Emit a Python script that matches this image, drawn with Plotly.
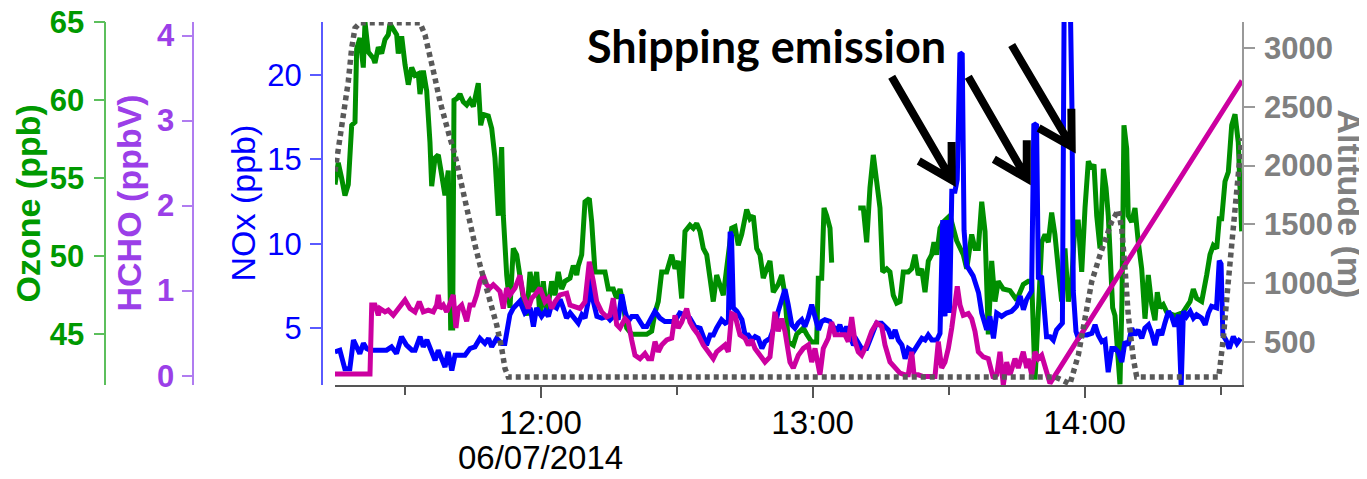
import math
import pandas as pd
import plotly.graph_objects as go

BASE = pd.Timestamp("2014-06-07 11:00:00")

# ---- data (time in minutes after 11:00) ----
OZ_T = [14.63, 15.35, 16.10, 16.83, 17.56, 18.31, 19.04, 19.41, 20.14, 20.87, 21.25, 21.97, 23.08, 23.45, 24.18,
        24.93, 25.66, 26.38, 26.76, 27.49, 28.24, 28.59, 29.34, 30.07, 30.80, 31.55, 32.28, 33.00, 33.38, 34.11,
        34.86, 35.58, 35.96, 36.69, 37.42, 38.17, 38.89, 39.62, 40.15, 40.59, 40.88, 41.47, 42.20, 42.93, 43.68,
        44.41, 45.14, 46.24, 46.77, 47.34, 48.45, 49.20, 49.92, 50.65, 51.40, 51.76, 52.51, 53.23, 53.96, 54.71,
        55.44, 56.17, 56.92, 57.65, 58.37, 59.12, 59.85, 60.58, 61.33, 62.43, 63.16, 63.89, 64.64, 65.37, 66.47,
        67.20, 67.95, 68.30, 69.05, 69.78, 70.73, 71.26, 71.99, 73.09, 74.19, 74.92, 76.02, 76.77, 77.50, 78.23,
        78.98, 80.08, 81.91, 83.39, 84.49, 85.22, 85.95, 86.70, 87.80, 88.91, 89.63, 90.36, 91.11, 91.84, 92.94,
        93.67, 94.42, 95.15, 95.88, 96.63, 97.36, 98.08, 98.83, 99.56, 100.29, 102.14, 102.87, 103.60, 104.35,
        105.45, 106.18, 106.91, 107.66, 108.39, 109.11, 109.86, 110.59, 111.32, 112.42, 113.17, 113.90, 114.63,
        115.73, 116.48, 117.94, 118.69, 119.79, 120.89, 121.25, 122.00, 122.51, 123.10, 123.83, 124.20, 127.0,
        130.07, 131.18, 131.92, 132.65, 133.38, 134.13, 134.86, 135.45, 136.34, 137.06, 137.79, 138.54, 139.27,
        140.00, 141.10, 141.85, 142.58, 143.31, 144.06, 144.79, 145.52, 146.26, 146.77, 147.37, 148.10, 148.82,
        150.29, 151.77, 153.24, 153.99, 155.09, 155.82, 156.55, 157.30, 158.03, 158.75, 159.50, 160.23, 160.95,
        162.06, 163.54, 165.02, 166.47, 167.57, 168.33, 169.06, 169.78, 170.53, 171.26, 171.99, 172.73, 173.45,
        174.20, 174.94, 175.67, 176.40, 177.15, 177.88, 178.61, 179.36, 180.09, 180.82, 181.56, 182.07, 182.67,
        183.40, 184.13, 184.72, 185.22, 185.60, 186.19, 186.70, 187.21, 187.80, 188.24, 188.68, 189.28, 189.63,
        190.38, 191.11, 191.84, 192.59, 193.32, 194.05, 194.80, 195.52, 196.03, 196.62, 197.35, 198.17, 199.94,
        201.70, 203.25, 203.98, 204.72, 205.83, 206.93, 207.66, 208.39, 209.14, 209.71, 210.24, 210.97, 211.70,
        212.45, 213.18, 213.90, 214.65]
OZ_V = [54.6, 56.0, 55.0, 53.9, 54.6, 58.4, 58.6, 63.3, 64.0, 62.1, 65.0, 63.1, 62.7, 62.4, 63.4,
        63.0, 63.9, 64.2, 64.9, 64.5, 64.2, 63.0, 64.1, 62.3, 61.0, 62.1, 61.6, 61.7, 60.4, 61.9,
        60.6, 57.3, 54.5, 56.3, 56.5, 55.2, 53.9, 55.5, 45.4, 45.4, 60.0, 60.1, 60.4, 59.9, 59.7,
        60.0, 59.6, 61.1, 58.4, 59.1, 59.0, 58.2, 56.3, 52.6, 57.0, 52.6, 48.8, 46.7, 50.5, 50.1,
        48.6, 47.3, 46.2, 49.0, 47.7, 49.0, 46.2, 48.4, 46.2, 48.4, 47.5, 49.0, 47.9, 48.4, 48.6,
        49.4, 48.8, 49.4, 50.1, 53.5, 53.7, 52.2, 49.0, 49.0, 49.0, 47.9, 47.9, 47.3, 47.9, 46.9,
        45.4, 45.0, 45.0, 45.0, 45.2, 46.4, 47.1, 49.0, 49.0, 50.1, 49.2, 49.7, 47.3, 51.6, 52.0,
        51.8, 52.1, 51.6, 50.5, 50.1, 48.6, 47.1, 48.8, 48.2, 47.5, 51.8, 51.9, 50.7, 51.4,
        53.0, 52.4, 52.6, 50.5, 50.1, 48.6, 49.2, 49.7, 47.7, 48.2, 48.8, 47.5, 44.5,
        44.3, 45.0, 45.4, 45.0, 44.5, 44.5, 48.6, 48.6, 53.1, 52.6, 51.8, 49.6, None,
        53.1, 53.1, 50.9, 54.4, 56.5, 54.4, 53.1, 49.0, 49.2, 49.0, 47.5, 47.0, 47.1,
        49.0, 49.0, 49.2, 50.1, 48.8, 49.2, 47.7, 49.7, 50.1, 50.9, 50.1, 51.8, 52.2,
        52.6, 51.0, 50.1, 49.2, 51.4, 50.5, 50.5, 53.5, 51.6, 45.0, 49.7, 47.1, 48.4,
        47.9, 47.8, 47.2, 48.2, 48.4, 48.4, 42.1, 47.2, 50.9, 51.4, 50.9, 52.8, 51.4,
        49.2, 47.1, 50.5, 47.1, 48.4, 52.2, 52.2, 49.0, 53.1, 56.1, 55.6, 55.9, 52.6,
        50.5, 55.6, 54.4, 52.6, 50.5, 46.7, 46.2, 43.7, 41.8, 47.2, 58.4, 56.9, 52.6,
        52.2, 53.1, 50.9, 49.2, 46.0, 48.8, 46.9, 45.9, 47.7, 46.7, 46.9, 46.4, 46.2,
        46.4, 47.1, 47.9, 47.3, 47.1, 48.8, 50.1, 50.7, 50.5, 52.4, 52.4, 54.8, 55.4,
        58.4, 59.1, 57.3, 51.6]

NOX_T = [14.6, 15.7, 16.8, 17.9, 18.7, 19.4, 20.1, 20.9, 21.6, 22.4, 24.6, 26.0, 27.1, 28.2, 29.3, 30.4,
         31.6, 32.3, 33.4, 34.1, 34.9, 35.6, 36.7, 37.4, 38.2, 38.9, 39.6, 40.4, 41.1, 42.2, 43.3, 44.4,
         45.5, 46.6, 47.7, 48.5, 49.2, 50.3, 51.4, 52.1, 53.2, 54.0, 54.7, 55.4, 56.5, 57.7, 58.4, 59.1,
         60.2, 61.0, 61.7, 62.4, 63.5, 64.3, 65.0, 65.7, 66.5, 67.6, 68.3, 69.1, 69.8, 70.5, 70.9, 71.6,
         72.4, 73.5, 74.6, 75.3, 76.4, 77.1, 77.9, 78.6, 79.3, 80.1, 81.2, 81.9, 82.6, 83.4, 84.1, 85.2,
         86.3, 87.4, 88.5, 89.6, 90.7, 91.8, 92.9, 94.0, 95.2, 95.9, 96.6, 97.4, 98.1, 98.8, 99.9, 100.7,
         101.4, 101.8, 102.1, 102.5, 103.3, 104.4, 105.1, 105.8, 106.6, 107.3, 108.0, 108.8, 109.5, 110.6,
         111.7, 112.4, 113.2, 113.9, 114.6, 115.4, 116.1, 116.8, 117.6, 118.3, 119.0, 119.8, 120.5, 121.3,
         122.0, 122.7, 123.8, 124.6, 125.3, 126.0, 126.8, 127.5, 128.2, 129.0, 129.7, 130.8, 131.9, 133.0,
         134.1, 135.2, 136.0, 136.7, 137.4, 138.2, 138.9, 139.7, 140.4, 141.1, 142.2, 143.3, 144.1, 144.8,
         145.5, 146.3, 147.4, 148.1, 148.7, 149.2, 149.7, 150.2, 150.7, 151.4, 151.9, 152.5, 153.0, 153.4,
         154.0, 155.4, 156.6, 157.3, 158.4, 159.1, 159.9, 160.6, 161.7, 162.8, 163.9, 165.0, 165.8, 166.5,
         167.2, 168.3, 168.8, 169.4, 169.8, 170.5, 171.0, 171.6, 172.4, 173.1, 173.8, 174.6, 175.1, 175.5,
         176.8, 177.2, 177.5, 178.1, 178.6, 179.4, 180.5, 181.6, 182.3, 183.0, 183.8, 184.5, 185.2, 186.0,
         186.7, 187.4, 188.2, 188.9, 189.6, 190.4, 191.1, 191.8, 192.6, 193.3, 194.1, 194.8, 195.5, 196.3,
         197.0, 197.7, 198.5, 199.2, 199.9, 200.7, 201.3, 201.8, 202.5, 203.3, 204.0, 204.7, 205.8, 206.6,
         207.3, 208.0, 209.1, 209.7, 210.1, 210.5, 211.2, 211.9, 212.8, 213.6, 214.4]
NOX_V = [3.6, 3.7, 2.6, 2.6, 4.3, 3.8, 3.5, 4.1, 3.8, 3.7, 3.7, 3.7, 3.9, 3.5, 4.5, 4.0,
         3.7, 3.7, 4.5, 3.9, 4.3, 3.8, 3.1, 3.7, 3.2, 2.7, 3.6, 2.5, 3.4, 3.4, 3.4, 3.8,
         3.9, 4.4, 4.1, 4.4, 3.9, 4.4, 4.1, 4.1, 5.8, 6.2, 6.4, 6.6, 5.9, 6.2, 5.1, 6.2,
         5.7, 6.0, 5.7, 6.4, 6.2, 6.7, 6.2, 5.6, 5.9, 5.5, 5.3, 5.8, 5.6, 6.6, 8.2, 6.6,
         5.7, 5.6, 5.7, 5.5, 5.8, 5.5, 7.0, 6.0, 5.4, 5.7, 5.7, 5.4, 5.1, 5.1, 5.4, 6.0,
         5.6, 5.4, 5.4, 5.4, 5.9, 5.8, 5.6, 5.1, 5.0, 4.5, 4.0, 4.6, 4.6, 5.0, 5.5, 5.3,
         5.4, 10.7, 10.5, 6.2, 6.0, 5.5, 4.6, 4.6, 4.3, 4.5, 4.4, 3.8, 4.2, 4.4,
         5.2, 6.0, 6.6, 7.3, 6.4, 5.2, 5.0, 5.3, 5.5, 5.1, 5.6, 6.4, 5.7, 4.9,
         5.4, 5.5, 5.4, 5.1, 4.8, 5.2, 4.6, 5.1, 4.6, 4.0, 4.3, 3.8, 3.8, 4.6,
         5.3, 5.3, 5.1, 4.9, 4.4, 4.9, 4.3, 4.0, 3.2, 3.8, 3.6, 4.0, 4.4, 4.3,
         4.6, 4.3, 4.3, 4.7, 11.4, 5.7, 11.4, 5.9, 13.1, 13.1, 13.8, 21.3, 21.2, 10.8,
         8.7, 8.1, 7.1, 5.9, 4.9, 5.7, 4.4, 5.9, 5.7, 5.9, 6.0, 6.3, 6.9, 6.1,
         6.7, 7.2, 17.1, 17.0, 7.9, 8.1, 6.7, 4.5, 4.5, 4.3, 4.9, 5.1, 5.3, 25.0,
         25.0, 18.2, 7.2, 4.8, 4.4, 4.6, 4.6, 4.7, 5.2, 4.6, 4.2, 4.3, 2.4, 3.8,
         3.8, 3.6, 3.0, 4.2, 4.0, 5.0, 4.6, 4.9, 4.4, 5.0, 5.2, 4.7, 4.0, 4.9,
         4.6, 5.3, 6.0, 5.7, 5.1, 5.8, 1.6, 6.0, 5.7, 6.0, 5.6, 5.8, 5.6, 5.2,
         5.9, 6.3, 6.2, 9.0, 8.8, 4.6, 4.3, 3.8, 4.5, 4.1, 4.4]

HCHO_T = [14.63, 22.35, 22.73, 23.45, 24.18, 24.55, 25.66, 26.38, 27.49, 28.59, 30.07, 31.17, 32.28, 33.22,
          34.11, 35.21, 36.31, 37.06, 37.42, 37.79, 38.52, 39.27, 40.00, 40.72, 41.32, 41.83, 42.58, 43.68,
          44.41, 45.14, 45.89, 46.62, 47.34, 48.09, 48.82, 49.55, 50.30, 51.03, 51.76, 52.51, 53.23, 54.34,
          55.44, 56.17, 57.27, 58.02, 58.75, 59.85, 60.95, 61.68, 62.43, 63.16, 64.26, 65.74, 66.47, 67.57,
          68.68, 69.78, 70.73, 71.61, 72.36, 73.46, 74.57, 75.29, 76.02, 76.77, 77.50, 78.60, 79.33, 80.08,
          80.81, 81.91, 83.01, 83.74, 84.49, 85.22, 85.95, 86.70, 87.80, 88.91, 89.63, 90.36, 91.11, 92.21,
          92.94, 93.67, 94.77, 95.88, 96.98, 98.08, 98.83, 99.56, 100.66, 101.39, 102.14, 102.87, 103.97,
          105.08, 105.81, 106.56, 107.28, 108.39, 109.49, 110.59, 111.69, 112.42, 113.17, 113.90, 115.00,
          115.73, 116.84, 117.94, 119.04, 119.79, 120.52, 121.62, 122.35, 123.45, 124.20, 124.93, 126.04,
          127.14, 127.86, 128.61, 129.34, 130.07, 130.82, 131.92, 133.03, 134.13, 135.23, 135.96, 137.06,
          138.17, 139.27, 140.38, 141.10, 141.85, 142.36, 143.31, 144.41, 145.89, 146.99, 147.72, 148.47,
          149.20, 149.93, 150.68, 151.41, 151.91, 152.51, 153.24, 154.34, 155.09, 155.82, 156.55, 157.65,
          158.75, 159.86, 160.61, 161.33, 162.06, 162.81, 163.54, 164.64, 165.37, 166.47, 167.22, 167.57,
          168.33, 169.06, 169.78, 170.53, 171.26, 171.99, 172.36, 214.72]
HCHO_V = [0.02, 0.02, 0.83, 0.83, 0.71, 0.79, 0.75, 0.77, 0.71, 0.79, 0.89, 0.79, 0.75, 0.87,
          0.75, 0.77, 0.75, 0.83, 0.95, 0.79, 0.83, 0.75, 0.85, 0.95, 0.56, 0.79, 0.83, 0.64,
          0.83, 0.83, 0.95, 1.11, 1.18, 1.07, 1.03, 1.07, 1.03, 0.99, 0.79, 1.03, 0.95, 1.03,
          1.18, 0.95, 0.79, 0.91, 0.95, 1.03, 0.87, 0.91, 0.79, 0.87, 0.95, 0.97, 0.83, 0.81,
          0.79, 0.87, 1.34, 1.11, 0.87, 0.75, 0.69, 0.71, 0.91, 0.60, 0.56, 0.67, 0.63, 0.42,
          0.24, 0.20, 0.26, 0.20, 0.20, 0.40, 0.28, 0.36, 0.42, 0.44, 0.71, 0.56, 0.63, 0.79,
          0.63, 0.56, 0.48, 0.36, 0.28, 0.20, 0.28, 0.32, 0.36, 0.28, 0.73, 0.71, 0.48,
          0.44, 0.36, 0.42, 0.32, 0.24, 0.16, 0.22, 0.75, 0.52, 0.67, 0.52, 0.16,
          0.09, 0.24, 0.32, 0.36, 0.16, 0.32, 0.01, 0.32, 0.44, 0.63, 0.48, 0.48,
          0.48, 0.40, 0.69, 0.40, 0.28, 0.24, 0.36, 0.52, 0.62, 0.58, 0.36, 0.16,
          0.09, 0.03, 0.01, 0.01, 0.28, 0.01, 0.01, -0.01, -0.01, -0.01, 0.40, 0.09,
          0.16, 0.32, 0.56, 0.83, 1.05, 0.83, 0.71, 0.73, 0.67, 0.52, 0.28, 0.22,
          0.20, -0.03, 0.01, 0.28, -0.11, 0.16, 0.01, 0.20, 0.09, 0.28, 0.09, 0.20,
          0.01, 0.28, 0.20, 0.24, 0.09, -0.05, -0.09, 3.47]

ALT_T = [14.63, 15.35, 16.10, 16.83, 17.56, 18.31, 19.04, 20.14, 33.38, 34.48, 35.58, 36.69, 37.79, 38.89,
         40.00, 41.10, 42.20, 43.31, 44.41, 45.51, 46.62, 47.72, 48.82, 50.30, 51.40, 52.13, 52.86,
         173.45, 175.20, 176.77, 178.61, 180.09, 181.56, 183.40, 184.87, 185.97, 187.43, 188.18, 188.91,
         189.63, 190.74, 191.49, 209.60, 210.59, 211.69, 212.80, 213.90, 214.65]
ALT_V = [1948, 2147, 2318, 2489, 2715, 3000, 3170, 3215, 3215, 3113, 2943, 2744, 2545, 2374,
         2233, 2090, 1892, 1692, 1522, 1323, 1153, 1010, 840, 642, 443, 272, 200,
         200, 170, 140, 385, 726, 1010, 1238, 1408, 1522, 1620, 1465, 1124,
         726, 357, 200, 200, 528, 1010, 1465, 2005, 2233]

X_RANGE_MIN = [14.63, 214.72]
MAJOR_TICKS_MIN = [60, 120, 180]
MAJOR_TICK_TEXT = ["12:00", "13:00", "14:00"]
MINOR_TICKS_MIN = [30, 90, 150, 210]
DATE_LABEL = "06/07/2014"

OZ_TICKS = [45, 50, 55, 60, 65]
HCHO_TICKS = [0, 1, 2, 3, 4]
NOX_TICKS = [5, 10, 15, 20]
ALT_TICKS = [500, 1000, 1500, 2000, 2500, 3000]


def T(mins):
    return [BASE + pd.Timedelta(minutes=m) for m in mins]


FONT = "Arial, 'Liberation Sans', sans-serif"
OFF = 8                      # page body margin of the html page
W, H = 1367 - OFF, 479 - OFF
ML, MR, MT, MB = 0, 125, 14, 94
PW = W - ML - MR
PH = H - MT - MB


def px(x, y):
    """reference-picture pixel -> paper fraction"""
    x -= OFF
    y -= OFF
    return ((x - ML) / PW, (H - MB - y) / PH)


GREEN = "#008f00"
BLUE = "#0000ff"
MAGENTA = "#cc00a0"
GRAY_LINE = "#595959"

fig = go.Figure()
fig.add_trace(go.Scatter(x=T(OZ_T), y=OZ_V, mode="lines", name="Ozone", yaxis="y",
                         line=dict(color=GREEN, width=5), connectgaps=False))
fig.add_trace(go.Scatter(x=T(NOX_T), y=NOX_V, mode="lines", name="NOx", yaxis="y2",
                         line=dict(color=BLUE, width=5)))
fig.add_trace(go.Scatter(x=T(HCHO_T), y=HCHO_V, mode="lines", name="HCHO", yaxis="y3",
                         line=dict(color=MAGENTA, width=5)))
fig.add_trace(go.Scatter(x=T(ALT_T), y=ALT_V, mode="lines", name="Altitude", yaxis="y4",
                         line=dict(color=GRAY_LINE, width=5.5, dash="5px,4px")))

xd0 = px(335, 0)[0]


def yax(pos, rng, ticks, txtcol, linecol, bold, side="left", anchor="free", overlay=True, standoff=0):
    d = dict(range=rng, tickvals=ticks, showgrid=False, zeroline=False, showline=True,
             linecolor=linecol, linewidth=1.5, ticks="outside", ticklen=11, tickwidth=1.5,
             tickcolor=linecol, ticklabelstandoff=standoff, ticklabeloverflow="allow",
             tickfont=dict(family=FONT, size=31, color=txtcol, weight="bold" if bold else "normal"),
             side=side, anchor=anchor, automargin=False)
    if anchor == "free":
        d["position"] = pos
    if overlay:
        d["overlaying"] = "y"
    return d


fig.update_layout(
    width=W, height=H,
    margin=dict(l=ML, r=MR, t=MT, b=MB, autoexpand=False),
    paper_bgcolor="white", plot_bgcolor="white",
    showlegend=False,
    xaxis=dict(domain=[xd0, 1], type="date", range=T(X_RANGE_MIN),
               tickvals=T(MAJOR_TICKS_MIN), ticktext=MAJOR_TICK_TEXT,
               showgrid=False, zeroline=False, showline=True, linecolor="#555555", linewidth=1.5,
               ticks="outside", ticklen=11, tickwidth=1.5, tickcolor="#555555",
               ticklabelstandoff=-3, automargin=False,
               tickfont=dict(family=FONT, size=33, color="black"),
               minor=dict(tickvals=T(MINOR_TICKS_MIN), ticks="outside", ticklen=8,
                          tickwidth=1.5, tickcolor="#555555", showgrid=False)),
    yaxis=yax(px(105.3, 0)[0], [41.75, 65.02], OZ_TICKS, "#009900", "#5cbf5c", True, overlay=False,
              standoff=3),
    yaxis2=yax(px(321.7, 0)[0], [1.64, 23.12], NOX_TICKS, "#0000ff", "#5a5aff", False, standoff=2),
    yaxis3=yax(px(193.3, 0)[0], [-0.11, 4.16], HCHO_TICKS, "#9b3fe8", "#b07cf0", True, standoff=1),
    yaxis4=yax(None, [131, 3222], ALT_TICKS, "#808080", "#999999", True, side="right", anchor="x",
               standoff=3),
)

# axis titles
titles = [
    ("Ozone (ppb)", 27, "#009900", "bold", -90),
    ("HCHO (ppbV)", 128, "#9b3fe8", "bold", -90),
    ("NOx (ppb)", 242, "#0000ff", "normal", -90),
    ("Altitude (m)", 1350, "#808080", "bold", 90),
]
for txt, xc, col, wt, ang in titles:
    fig.add_annotation(text=txt, x=px(xc, 0)[0], y=px(0, 203.5)[1], xref="paper", yref="paper",
                       xanchor="center", yanchor="middle", textangle=ang, showarrow=False,
                       font=dict(family=FONT, size=34, color=col, weight=wt))

# date under 12:00
fig.add_annotation(text=DATE_LABEL, x=T([60])[0], xref="x", y=px(0, 457.5)[1], yref="paper",
                   xanchor="center", yanchor="middle", showarrow=False,
                   font=dict(family=FONT, size=33, color="black"))

# Shipping emission label
fig.add_annotation(text="<b>Shipping emission</b>", x=px(766, 0)[0], y=px(0, 46)[1],
                   xref="paper", yref="paper", xanchor="center", yanchor="middle", showarrow=False,
                   font=dict(family="Lato, 'Open Sans', sans-serif", size=45, color="black"))

# arrows (chevron heads)
arrows = [((891.7, 76.7), (951.7, 180.0)),
          ((968.3, 76.7), (1026.7, 178.3)),
          ((1011.7, 45.0), (1071.7, 146.7))]
for (tx, ty), (hx, hy) in arrows:
    dx, dy = tx - hx, ty - hy
    L = math.hypot(dx, dy)
    ux, uy = dx / L, dy / L
    arms = []
    for a in (math.radians(30), math.radians(-30)):
        ax = ux * math.cos(a) - uy * math.sin(a)
        ay = ux * math.sin(a) + uy * math.cos(a)
        arms.append((hx + 38 * ax, hy + 38 * ay))
    p = [px(tx, ty), px(hx, hy), px(*arms[0]), px(*arms[1])]
    path = (f"M {p[0][0]},{p[0][1]} L {p[1][0]},{p[1][1]} "
            f"M {p[2][0]},{p[2][1]} L {p[1][0]},{p[1][1]} L {p[3][0]},{p[3][1]}")
    fig.add_shape(type="path", path=path, xref="paper", yref="paper",
                  line=dict(color="black", width=8))

fig.write_html("out.html")
